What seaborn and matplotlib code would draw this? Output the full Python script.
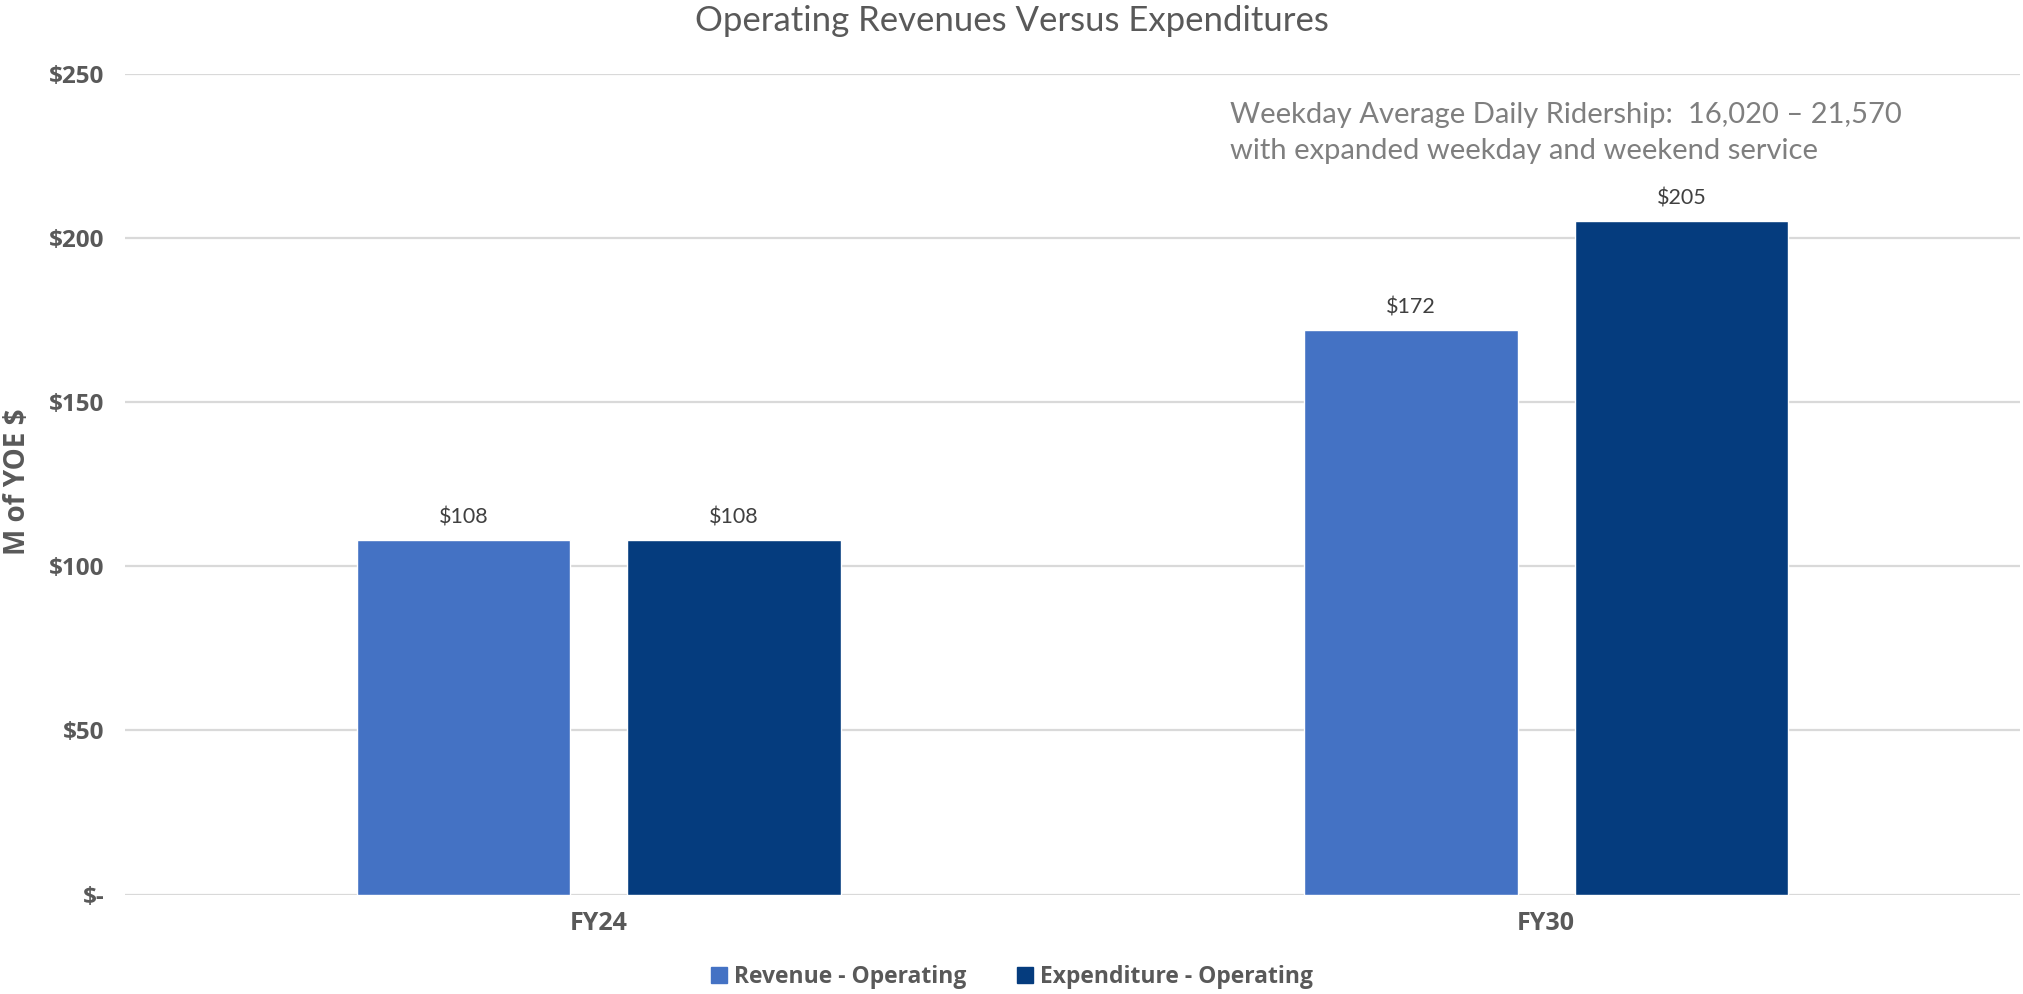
import seaborn as sns
import matplotlib.pyplot as plt
import pandas as pd

# values
years = ['FY24', 'FY30']
revenue = [108, 172]
expenditure = [108, 205]
series = ['Revenue - Operating', 'Expenditure - Operating']
colors = ['#4472C4', '#053C7E']
yticks = [0, 50, 100, 150, 200, 250]
ytick_labels = ['$-', '$50', '$100', '$150', '$200', '$250']

df = pd.DataFrame({
    'year': years * 2,
    'value': revenue + expenditure,
    'series': [series[0]] * len(years) + [series[1]] * len(years),
})

sns.set_style('white')
plt.rcParams['font.family'] = ['Lato', 'DejaVu Sans']
bold_font = {'family': ['Open Sans', 'DejaVu Sans'], 'weight': 'bold'}

fig = plt.figure(figsize=(20.24, 9.94), dpi=100)
ax = fig.add_axes([0.0618, 0.1001, 0.9362, 0.8259])

sns.barplot(data=df, x='year', y='value', hue='series', palette=colors,
            width=0.571, gap=0.212, saturation=1, ax=ax, legend=False)

for cont in ax.containers:
    ax.bar_label(cont, labels=['$%d' % v for v in cont.datavalues],
                 padding=9, fontsize=15.5, color='#404040')

ax.set_ylim(0, 250)
ax.set_xlim(-0.5, 1.5)
ax.set_yticks(yticks)
ax.set_yticklabels(ytick_labels, fontdict=dict(bold_font, size=17.5))
ax.set_xticks(range(len(years)))
ax.set_xticklabels(years, fontdict=dict(bold_font, size=18))
ax.yaxis.grid(True, color='#d9d9d9', linewidth=1.6)
ax.set_axisbelow(True)
for s in ax.spines.values():
    s.set_visible(False)
ax.tick_params(axis='both', length=0, labelcolor='#595959', pad=12)
ax.tick_params(axis='y', pad=15)
ax.set_xlabel('')
ax.set_ylabel('')

fig.text(0.0085, 0.515, 'M of YOE $', rotation=90, ha='center', va='center',
         fontdict=dict(bold_font, size=20), color='#595959')
fig.text(0.5, 0.979, 'Operating Revenues Versus Expenditures', ha='center', va='center',
         fontsize=25, color='#595959')
fig.text(0.6077, 0.866, 'Weekday Average Daily Ridership:  16,020 \u2013 21,570\nwith expanded weekday and weekend service',
         ha='left', va='center', fontsize=21, color='#7f7f7f', linespacing=1.5)

handles = [plt.Rectangle((0, 0), 1, 1, color=c) for c in colors]
leg = fig.legend(handles, series, loc='center', bbox_to_anchor=(0.5, 0.017), ncol=2,
                 frameon=False, handlelength=0.7, handleheight=0.7, handletextpad=0.3,
                 columnspacing=2.2, prop=dict(bold_font, size=16.5))
for t in leg.get_texts():
    t.set_color('#595959')

fig.savefig('out.png', dpi=100)
